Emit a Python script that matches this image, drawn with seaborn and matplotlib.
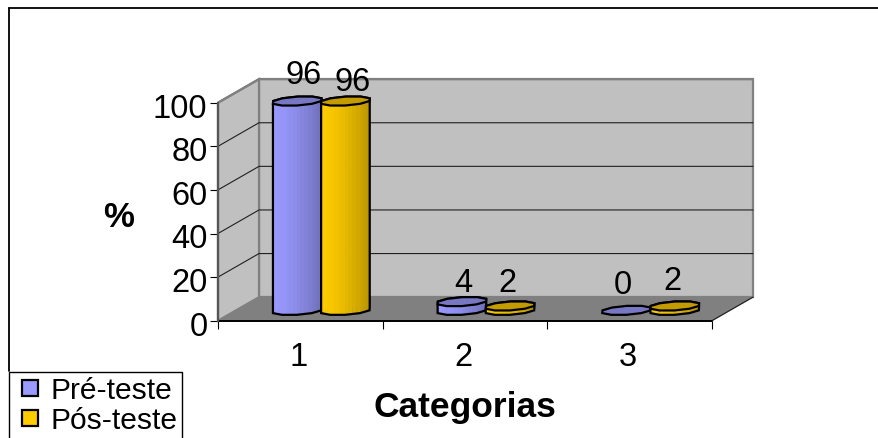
import numpy as np
import pandas as pd
import matplotlib
matplotlib.use("Agg")
import matplotlib.pyplot as plt
from matplotlib.patches import Polygon
from matplotlib.lines import Line2D
from matplotlib.colors import to_rgb
from matplotlib.transforms import ScaledTranslation
import seaborn as sns

categories = ["1", "2", "3"]
pre_teste = [96, 4, 0]
pos_teste = [96, 2, 2]
series_names = ["Pré-teste", "Pós-teste"]
y_ticks = [0, 20, 40, 60, 80, 100]

side_colors = ["#9999FF", "#FFCC00"]
cap_colors = ["#7777C4", "#C49C00"]

# Oblique projection of the floor depth, expressed in axis units
DEPTH_X = 0.249
DEPTH_Y = 10.8
CAP_DEPTH = 0.2
DRUM_DEPTH = 0.44
DRUM_SHIFT = 0.018
FACETS = 10
STRIPS = 4
# Pixel nudges for the value labels, per series then category
label_nudges = {(0, 0): (6, 27), (1, 0): (7, 20), (0, 1): (1, 19),
                (1, 1): (-3, 23), (0, 2): (-4, 26), (1, 2): (-2, 25)}

sns.set_theme(style="white")
plt.rcParams["font.family"] = ["Liberation Sans", "DejaVu Sans"]
plt.rcParams["text.color"] = "black"
plt.rcParams["xtick.labelcolor"] = "black"
plt.rcParams["ytick.labelcolor"] = "black"

W, H = 879, 439
fig = plt.figure(figsize=(W / 100, H / 100), dpi=100)
fig.patch.set_facecolor("white")
ax = fig.add_axes([218 / W, (H - 321.7) / H, 494 / W, 218 / H])
ax.patch.set_visible(False)

frame = pd.DataFrame({
    "categoria": categories * 2,
    "valor": pre_teste + pos_teste,
    "serie": [series_names[0]] * 3 + [series_names[1]] * 3,
})
sns.barplot(data=frame, x="categoria", y="valor", hue="serie", hue_order=series_names,
            palette=side_colors, width=0.585, gap=0, ax=ax, legend=False)
ax.set_xlim(-0.5, 2.5)
ax.set_ylim(0, 100)

# The flat bars give the geometry; the drums below are built on top of them
bars = []
for s, container in enumerate(ax.containers):
    for c, patch in enumerate(container):
        bars.append((s, c, patch.get_x(), patch.get_width(), patch.get_height()))
        patch.set_visible(False)


def project(x, y, depth):
    return x + DEPTH_X * depth, y + DEPTH_Y * depth


def add_poly(points, **kw):
    kw.setdefault("clip_on", False)
    ax.add_patch(Polygon(points, closed=True, **kw))


# Back wall, side wall and floor of the box
x0, x1 = ax.get_xlim()
grey = "#808080"
wall = "#C0C0C0"
add_poly([project(x0, 0, 1), project(x1, 0, 1), project(x1, 100, 1), project(x0, 100, 1)],
         facecolor=wall, edgecolor=grey, lw=1.6, zorder=1)
add_poly([project(x0, 0, 0), project(x0, 0, 1), project(x0, 100, 1), project(x0, 100, 0)],
         facecolor=wall, edgecolor=grey, lw=1.6, zorder=1)
for t in y_ticks[1:-1]:
    ax.plot(*zip(project(x0, t, 0), project(x0, t, 1), project(x1, t, 1)),
            color="#202020", lw=0.8, clip_on=False, zorder=1.5)
add_poly([project(x0, 0, 0), project(x1, 0, 0), project(x1, 0, 1), project(x0, 0, 1)],
         facecolor=grey, edgecolor="none", zorder=1.6)
ax.plot(*zip(project(x0, 100, 0), project(x0, 100, 1), project(x1, 100, 1)),
        color=grey, lw=1.6, clip_on=False, zorder=1.7, solid_capstyle="butt")
ax.plot(*zip(project(x1, 0, 0), project(x1, 0, 1)), color="#202020", lw=0.9, clip_on=False, zorder=1.7)


def hull(points):
    pts = sorted(set(points))

    def half(seq):
        out = []
        for p in seq:
            while len(out) > 1 and (out[-1][0] - out[-2][0]) * (p[1] - out[-2][1]) - \
                    (out[-1][1] - out[-2][1]) * (p[0] - out[-2][0]) <= 0:
                out.pop()
            out.append(p)
        return out[:-1]

    return half(pts) + half(pts[::-1])


def drum(left, width, value, series, z):
    cx = left + width / 2 + DRUM_SHIFT
    angles = np.linspace(0, 2 * np.pi, FACETS, endpoint=False)
    ring = [(cx + width / 2 * np.cos(a), DRUM_DEPTH + CAP_DEPTH * np.sin(a)) for a in angles]
    base = [project(x, 0, d) for x, d in ring]
    top = [project(x, value, d) for x, d in ring]
    r, g, b = to_rgb(side_colors[series])
    if value > 0:
        lo = min(p[0] for p in base)
        hi = max(p[0] for p in base)
        order = sorted(range(FACETS), key=lambda k: -(ring[k][1] + ring[(k + 1) % FACETS][1]))
        for k in order:
            m = (k + 1) % FACETS
            for j in range(STRIPS):
                u0, u1 = j / STRIPS, (j + 1) / STRIPS
                xa = base[k][0] + (base[m][0] - base[k][0]) * u0
                xb = base[k][0] + (base[m][0] - base[k][0]) * u1
                ya = base[k][1] + (base[m][1] - base[k][1]) * u0
                yb = base[k][1] + (base[m][1] - base[k][1]) * u1
                # lighter on the left of the drum, darker towards the right
                f = ((xa + xb) / 2 - lo) / (hi - lo)
                shade = 1.0 - 0.27 * f ** 1.5
                add_poly([(xa, ya), (xb, yb), (xb, yb + value), (xa, ya + value)],
                         facecolor=(r * shade, g * shade, b * shade),
                         edgecolor=(r * shade, g * shade, b * shade), lw=0.2, zorder=z)
        add_poly(hull(base + top), facecolor="none", edgecolor="black", lw=1.6, zorder=z + 0.2)
    add_poly(top, facecolor=cap_colors[series], edgecolor="black", lw=1.6, zorder=z + 0.3)
    return project(cx, value, DRUM_DEPTH)


# Drums, with their value labels just above them
for s, c, left, width, value in bars:
    px, py = drum(left, width, value, s, z=3 + s * 0.5)
    dx, dy = label_nudges[(s, c)]
    ax.annotate(f"{value:g}", (px, py), xytext=(dx * 0.72, dy * 0.72), textcoords="offset points",
                ha="center", va="center", fontsize=23.5, color="black", zorder=6, annotation_clip=False)

# Axes furniture
for spine in ax.spines.values():
    spine.set_visible(False)
ax.plot([x0, x1], [0, 0], color="black", lw=1.4, clip_on=False, zorder=2)
ax.plot([x0, x0], [0, 100], color="#555555", lw=1.6, clip_on=False, zorder=2)
ax.set_yticks(y_ticks)
ax.set_xticks([-0.5, 0.5, 1.5, 2.5], labels=["", "", "", ""])
ax.tick_params(axis="both", length=5.8, width=0.8, color="black", left=True, bottom=True, pad=1.8)
ax.tick_params(axis="y", labelsize=23.5)
ax.set_xlabel("")
ax.set_ylabel("")
drop = ScaledTranslation(0, -2 / 100, fig.dpi_scale_trans)
for tick_label in ax.get_yticklabels():
    tick_label.set_transform(tick_label.get_transform() + drop)
for c, label in enumerate(categories):
    ax.annotate(label, (c, 0), xytext=(-1, -25.5), textcoords="offset points", ha="center", va="center",
                fontsize=23.5, annotation_clip=False)

fig.text(119 / W, 1 - 218 / H, "%", fontsize=25, fontweight="bold", ha="center", va="center")
fig.text(465 / W, 1 - 408 / H, "Categorias", fontsize=25.5, fontweight="bold", ha="center", va="center")

# Chart area outline along the top and left edges
fig.add_artist(Line2D([8.5 / W, 1], [1 - 8.5 / H, 1 - 8.5 / H], transform=fig.transFigure, color="black", lw=1.3))
fig.add_artist(Line2D([8.5 / W, 8.5 / W], [1 - 8.5 / H, 1 - 372 / H], transform=fig.transFigure, color="black", lw=1.3))

handles = [Line2D([], [], linestyle="none", marker="s", markersize=11, markerfacecolor=c,
                  markeredgecolor="black", markeredgewidth=1.6) for c in side_colors]
leg = fig.legend(handles, series_names, loc="upper left", bbox_to_anchor=(8.5 / W, 1 - 372.5 / H),
                 fontsize=21.6, frameon=True, fancybox=False, edgecolor="black", framealpha=1,
                 borderpad=0.15, labelspacing=0.08, handlelength=1.15, handletextpad=0.1,
                 borderaxespad=0)
leg.get_frame().set_linewidth(1.0)

fig.savefig("out.png", dpi=100)
